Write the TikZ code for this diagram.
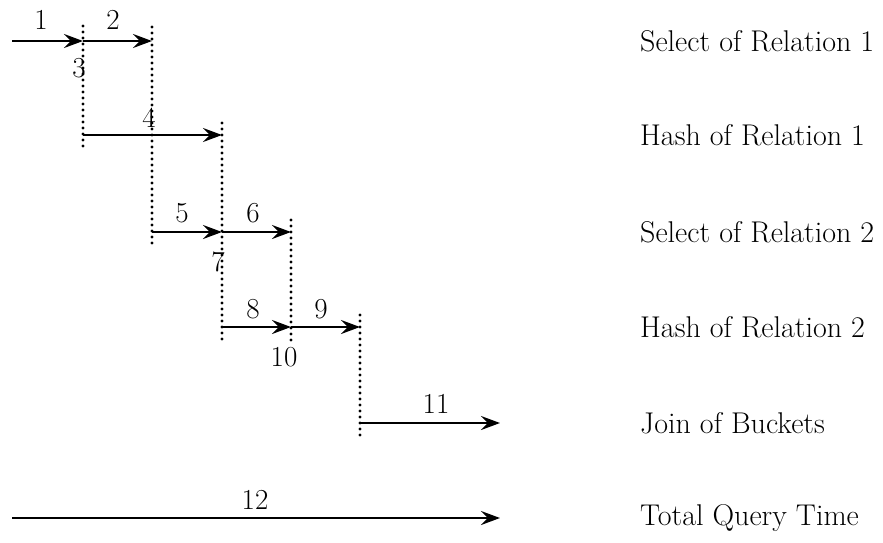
\documentclass[tikz,border=0pt]{standalone}
\usetikzlibrary{arrows.meta}
\begin{document}
\begin{tikzpicture}[x=1pt,y=-1pt,
  arr/.style={line width=2.6pt,-{Stealth[length=19pt,width=14pt,inset=7pt]}},
  tick/.style={line width=3.2pt,line cap=round,dash pattern=on 0pt off 6pt},
  num/.style={font=\fontsize{29}{34}\selectfont,inner sep=1pt},
  lab/.style={font=\fontsize{30}{36}\selectfont,anchor=west,inner sep=0pt}]
\useasboundingbox (0,0) rectangle (883,542);
% coordinates
\coordinate (s1) at (12,41);
\coordinate (a1) at (83,41);
\coordinate (b1) at (152,41);
\coordinate (a2) at (83,135);
\coordinate (c2) at (222,135);
\coordinate (b3) at (152,232);
\coordinate (c3) at (222,232);
\coordinate (d3) at (291,232);
\coordinate (c4) at (222,327);
\coordinate (d4) at (291,327);
\coordinate (e4) at (360,327);
\coordinate (e5) at (360,423);
\coordinate (f5) at (500,423);
\coordinate (s6) at (12,518);
\coordinate (f6) at (500,518);
% dotted verticals
\coordinate (v1t) at (83,26);  \coordinate (v1b) at (83,148);
\coordinate (v2t) at (152,27); \coordinate (v2b) at (152,245);
\coordinate (v3t) at (222,123);\coordinate (v3b) at (222,341);
\coordinate (v4t) at (291,220);\coordinate (v4b) at (291,341);
\coordinate (v5t) at (360,315);\coordinate (v5b) at (360,437);
\draw[tick] (v1t) -- (v1b);
\draw[tick] (v2t) -- (v2b);
\draw[tick] (v3t) -- (v3b);
\draw[tick] (v4t) -- (v4b);
\draw[tick] (v5t) -- (v5b);
% arrows
\draw[arr] (s1) -- (a1);
\draw[arr] (a1) -- (b1);
\draw[arr] (a2) -- (c2);
\draw[arr] (b3) -- (c3);
\draw[arr] (c3) -- (d3);
\draw[arr] (c4) -- (d4);
\draw[arr] (d4) -- (e4);
\draw[arr] (e5) -- (f5);
\draw[arr] (s6) -- (f6);
% numbers
\node[num] (n1) at (41,20) {1};
\node[num] (n2) at (113,20) {2};
\node[num] (n3) at (79,68) {3};
\node[num] (n4) at (149,118) {4};
\node[num] (n5) at (182,213) {5};
\node[num] (n6) at (253,213) {6};
\node[num] (n7) at (218,262) {7};
\node[num] (n8) at (253,309) {8};
\node[num] (n9) at (321,309) {9};
\node[num] (n10) at (284,357) {10};
\node[num] (n11) at (436,404) {11};
\node[num] (n12) at (255,500) {12};
% right labels
\node[lab] (l1) at (640,41) {Select of Relation 1};
\node[lab] (l2) at (640,135) {Hash of Relation 1};
\node[lab] (l3) at (640,232) {Select of Relation 2};
\node[lab] (l4) at (640,327) {Hash of Relation 2};
\node[lab] (l5) at (640,423) {Join of Buckets};
\node[lab] (l6) at (640,518) {Total Query Time};
\end{tikzpicture}
\end{document}
